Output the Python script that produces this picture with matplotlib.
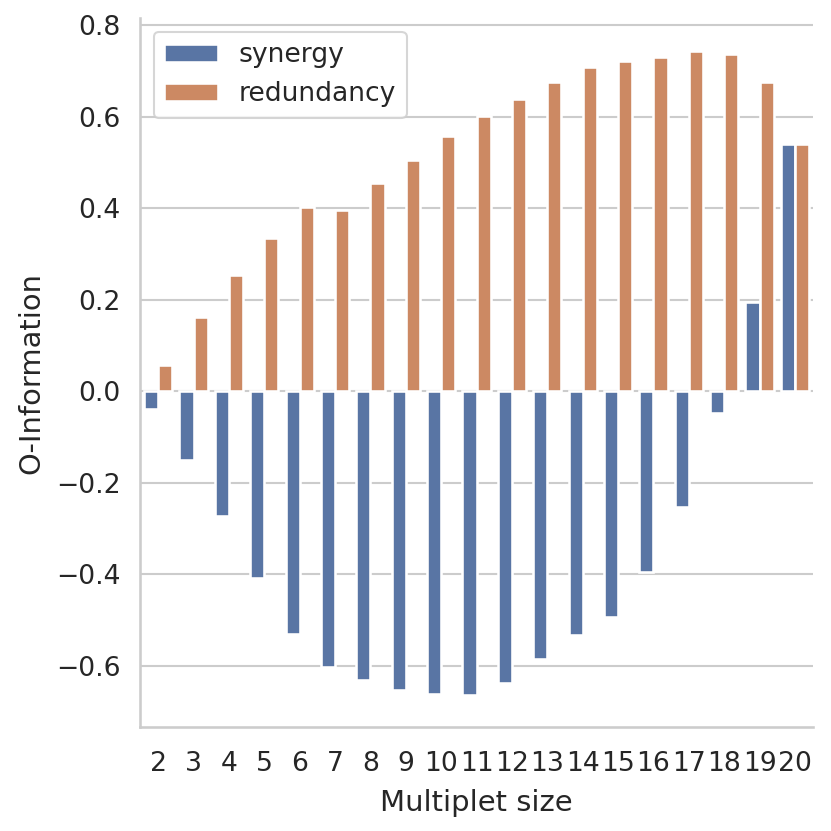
import matplotlib
matplotlib.use("Agg")
import matplotlib.pyplot as plt
import seaborn as sns
import pandas as pd

sizes = list(range(2, 21))
synergy = [-0.038, -0.151, -0.272, -0.409, -0.531, -0.603, -0.631, -0.654, -0.661,
           -0.664, -0.639, -0.585, -0.533, -0.493, -0.396, -0.254, -0.047, 0.195, 0.541]
redundancy = [0.058, 0.162, 0.254, 0.334, 0.403, 0.397, 0.455, 0.506, 0.557,
              0.602, 0.638, 0.677, 0.709, 0.723, 0.730, 0.745, 0.737, 0.677, 0.541]
series = ["synergy", "redundancy"]

df = pd.DataFrame({
    "Multiplet size": sizes * 2,
    "O-Information": synergy + redundancy,
    "kind": [series[0]] * len(sizes) + [series[1]] * len(sizes),
})

sns.set_theme(style="whitegrid", context="notebook", font_scale=1.16)
fig = plt.figure(figsize=(831 / 150, 831 / 150), dpi=150)
ax = fig.add_axes([0.169, 0.125, 0.809, 0.853])
sns.barplot(data=df, x="Multiplet size", y="O-Information", hue="kind",
            hue_order=series, ax=ax, linewidth=1.25, edgecolor="white")
sns.despine(ax=ax)
ax.tick_params(axis="x", pad=5.5)
ax.xaxis.labelpad = 5.5
ax.yaxis.labelpad = 5.0
ax.legend(loc="upper left")
fig.savefig("out.png", dpi=150)
